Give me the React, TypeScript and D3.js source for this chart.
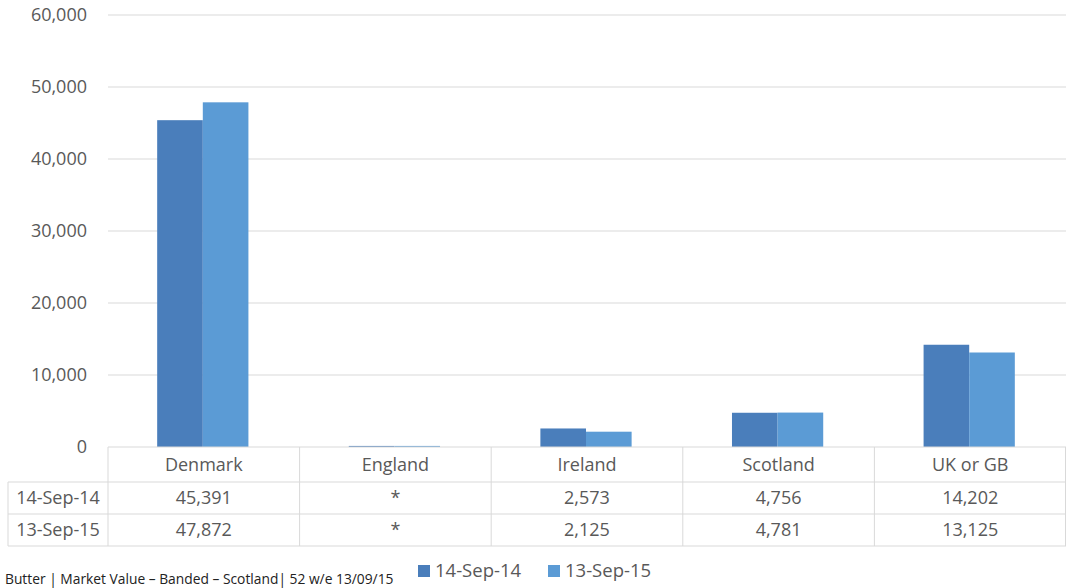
import React from 'react';
import * as d3 from 'd3';

const categories = ['Denmark', 'England', 'Ireland', 'Scotland', 'UK or GB'];
const seriesNames = ['14-Sep-14', '13-Sep-15'];
const sep14 = [45391, 150, 2573, 4756, 14202];
const sep15 = [47872, 150, 2125, 4781, 13125];
const sep14Labels = ['45,391', '*', '2,573', '4,756', '14,202'];
const sep15Labels = ['47,872', '*', '2,125', '4,781', '13,125'];
const yTicks = [0, 10000, 20000, 30000, 40000, 50000, 60000];
const colors = ['#4a7ebb', '#5b9bd5'];

const W = 1066;
const H = 588;
const left = 108;
const right = 1066;
const top = 15;
const bottom = 447;
const rowH = 32;
const font = '"Open Sans", "Liberation Sans", sans-serif';
const textColor = '#595959';
const lineColor = '#d9d9d9';

const App: React.FC = () => {
  const y = d3.scaleLinear().domain([0, 60000]).range([bottom, top]);
  const x = d3.scaleBand<string>().domain(categories).range([left, right]).paddingInner(0).paddingOuter(0);
  const inner = d3.scaleBand<number>().domain([0, 1]).range([0, x.bandwidth()]).paddingOuter(1.1).paddingInner(0);
  const fmt = d3.format(',');
  const series = [sep14, sep15];
  const labels = [sep14Labels, sep15Labels];
  const tableTop = bottom;
  const rows = [tableTop, tableTop + 35, tableTop + 35 + rowH, tableTop + 35 + rowH * 2];

  return (
    <svg width={W} height={H} style={{ position: 'absolute', left: 0, top: 0, background: '#fff' }}>
      {yTicks.map((t) => (
        <g key={t}>
          {t > 0 && <line x1={left} x2={right} y1={y(t)} y2={y(t)} stroke={lineColor} strokeWidth={1} />}
          <text x={87} y={y(t)} dy="0.35em" textAnchor="end" fontFamily={font} fontSize={18} fill={textColor}>
            {fmt(t)}
          </text>
        </g>
      ))}

      {series.map((vals, si) =>
        categories.map((c, ci) => (
          <rect
            key={`${si}-${c}`}
            x={(x(c) ?? 0) + (inner(si) ?? 0) - 1}
            y={y(vals[ci])}
            width={inner.bandwidth()}
            height={bottom - y(vals[ci])}
            fill={colors[si]}
          />
        ))
      )}

      {/* data table */}
      <line x1={left} x2={right} y1={rows[0]} y2={rows[0]} stroke={lineColor} />
      {rows.slice(1).map((ry) => (
        <line key={ry} x1={8} x2={right} y1={ry} y2={ry} stroke={lineColor} />
      ))}
      <line x1={8} x2={8} y1={rows[1]} y2={rows[3]} stroke={lineColor} />
      {categories.map((c) => (
        <line key={c} x1={x(c)} x2={x(c)} y1={rows[0]} y2={rows[3]} stroke={lineColor} />
      ))}
      <line x1={right - 0.5} x2={right - 0.5} y1={rows[0]} y2={rows[3]} stroke={lineColor} />
      {categories.map((c) => (
        <text key={c} x={(x(c) ?? 0) + x.bandwidth() / 2} y={(rows[0] + rows[1]) / 2} dy="0.35em" textAnchor="middle" fontFamily={font} fontSize={18} fill={textColor}>
          {c}
        </text>
      ))}
      {seriesNames.map((s, si) => (
        <g key={s}>
          <text x={58} y={(rows[si + 1] + rows[si + 2]) / 2} dy="0.35em" textAnchor="middle" fontFamily={font} fontSize={18} fill={textColor}>
            {s}
          </text>
          {categories.map((c, ci) => (
            <text key={c} x={(x(c) ?? 0) + x.bandwidth() / 2} y={(rows[si + 1] + rows[si + 2]) / 2} dy="0.35em" textAnchor="middle" fontFamily={font} fontSize={18} fill={textColor}>
              {labels[si][ci]}
            </text>
          ))}
        </g>
      ))}

      {/* legend */}
      {seriesNames.map((s, si) => (
        <g key={s} transform={`translate(${418 + si * 130},565)`}>
          <rect width={12} height={12} fill={colors[si]} />
          <text x={17} y={6} dy="0.35em" fontFamily={font} fontSize={18.5} fill={textColor}>
            {s}
          </text>
        </g>
      ))}

      <text x={5} y={584} fontFamily={font} fontSize={13.8} fill="#222">
        Butter | Market Value – Banded – Scotland| 52 w/e 13/09/15
      </text>
    </svg>
  );
};

export default App;
